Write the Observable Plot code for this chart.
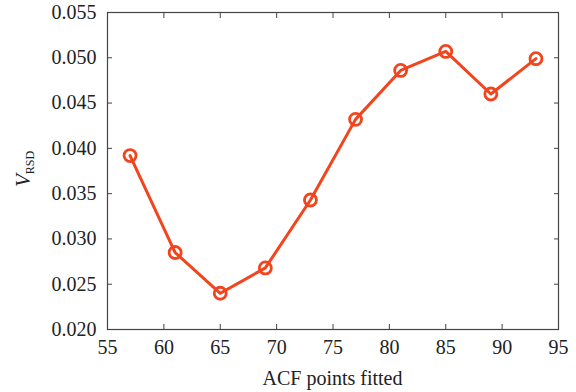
<!DOCTYPE html>
<html>
<head>
<meta charset="utf-8">
<script src="https://cdn.jsdelivr.net/npm/d3@7"></script>
<script src="https://cdn.jsdelivr.net/npm/@observablehq/plot@0.6"></script>
<style>
  html, body { margin: 0; padding: 0; background: #fff; }
  #chart { width: 576px; height: 392px; }
</style>
</head>
<body>
<div id="chart"></div>
<script>
const acfPoints = [57, 61, 65, 69, 73, 77, 81, 85, 89, 93];
const vRsd = [0.0392, 0.0285, 0.0240, 0.0268, 0.0343, 0.0432, 0.0486, 0.0507, 0.0460, 0.0499];
const xTicks = [55, 60, 65, 70, 75, 80, 85, 90, 95];
const yTicks = [0.020, 0.025, 0.030, 0.035, 0.040, 0.045, 0.050, 0.055];

const data = acfPoints.map((x, i) => ({x, y: vRsd[i]}));
const color = "#f2441d";
const axisColor = "#444";
const font = "'Liberation Serif', 'Times New Roman', serif";

const plot = Plot.plot({
  width: 576,
  height: 392,
  marginLeft: 107,
  marginRight: 18,
  marginTop: 12,
  marginBottom: 63,
  style: `font-family: ${font}; font-size: 20px; color: #222; background: #fff; overflow: visible;`,
  x: {domain: [55, 95]},
  y: {domain: [0.020, 0.055]},
  marks: [
    Plot.frame({stroke: axisColor, strokeWidth: 1.2}),
    Plot.axisX({ticks: xTicks, tickSize: -5, tickPadding: 15, stroke: axisColor, label: null, tickFormat: d => String(d), fill: "#222"}),
    Plot.axisX({anchor: "top", ticks: xTicks, tickSize: -5, stroke: axisColor, label: null, tickFormat: () => ""}),
    Plot.axisY({ticks: yTicks, tickSize: -5, tickPadding: 16, stroke: axisColor, label: null, tickFormat: d3.format(".3f"), fill: "#222"}),
    Plot.axisY({anchor: "right", ticks: yTicks, tickSize: -5, stroke: axisColor, label: null, tickFormat: () => ""}),
    Plot.line(data, {x: "x", y: "y", stroke: color, strokeWidth: 3}),
    Plot.dot(data, {x: "x", y: "y", r: 6, stroke: color, strokeWidth: 2.8, fill: "none"})
  ]
});

document.getElementById("chart").appendChild(plot);

const svg = d3.select(plot);
svg.selectAll("g").attr("font-variant", null);
svg.selectAll("text")
  .style("font-family", font)
  .style("font-size", "20px");

svg.append("text")
  .attr("x", 107 + (558 - 107) / 2)
  .attr("y", 385)
  .attr("text-anchor", "middle")
  .style("font-family", font)
  .style("font-size", "20px")
  .attr("fill", "#222")
  .text("ACF points fitted");

const yl = svg.append("text")
  .attr("transform", "translate(30,169) rotate(-90)")
  .attr("text-anchor", "middle")
  .style("font-family", font)
  .attr("fill", "#222");
yl.append("tspan").style("font-style", "italic").style("font-size", "21px").text("V");
yl.append("tspan").style("font-size", "12px").attr("dy", "4").text("RSD");
</script>
</body>
</html>
